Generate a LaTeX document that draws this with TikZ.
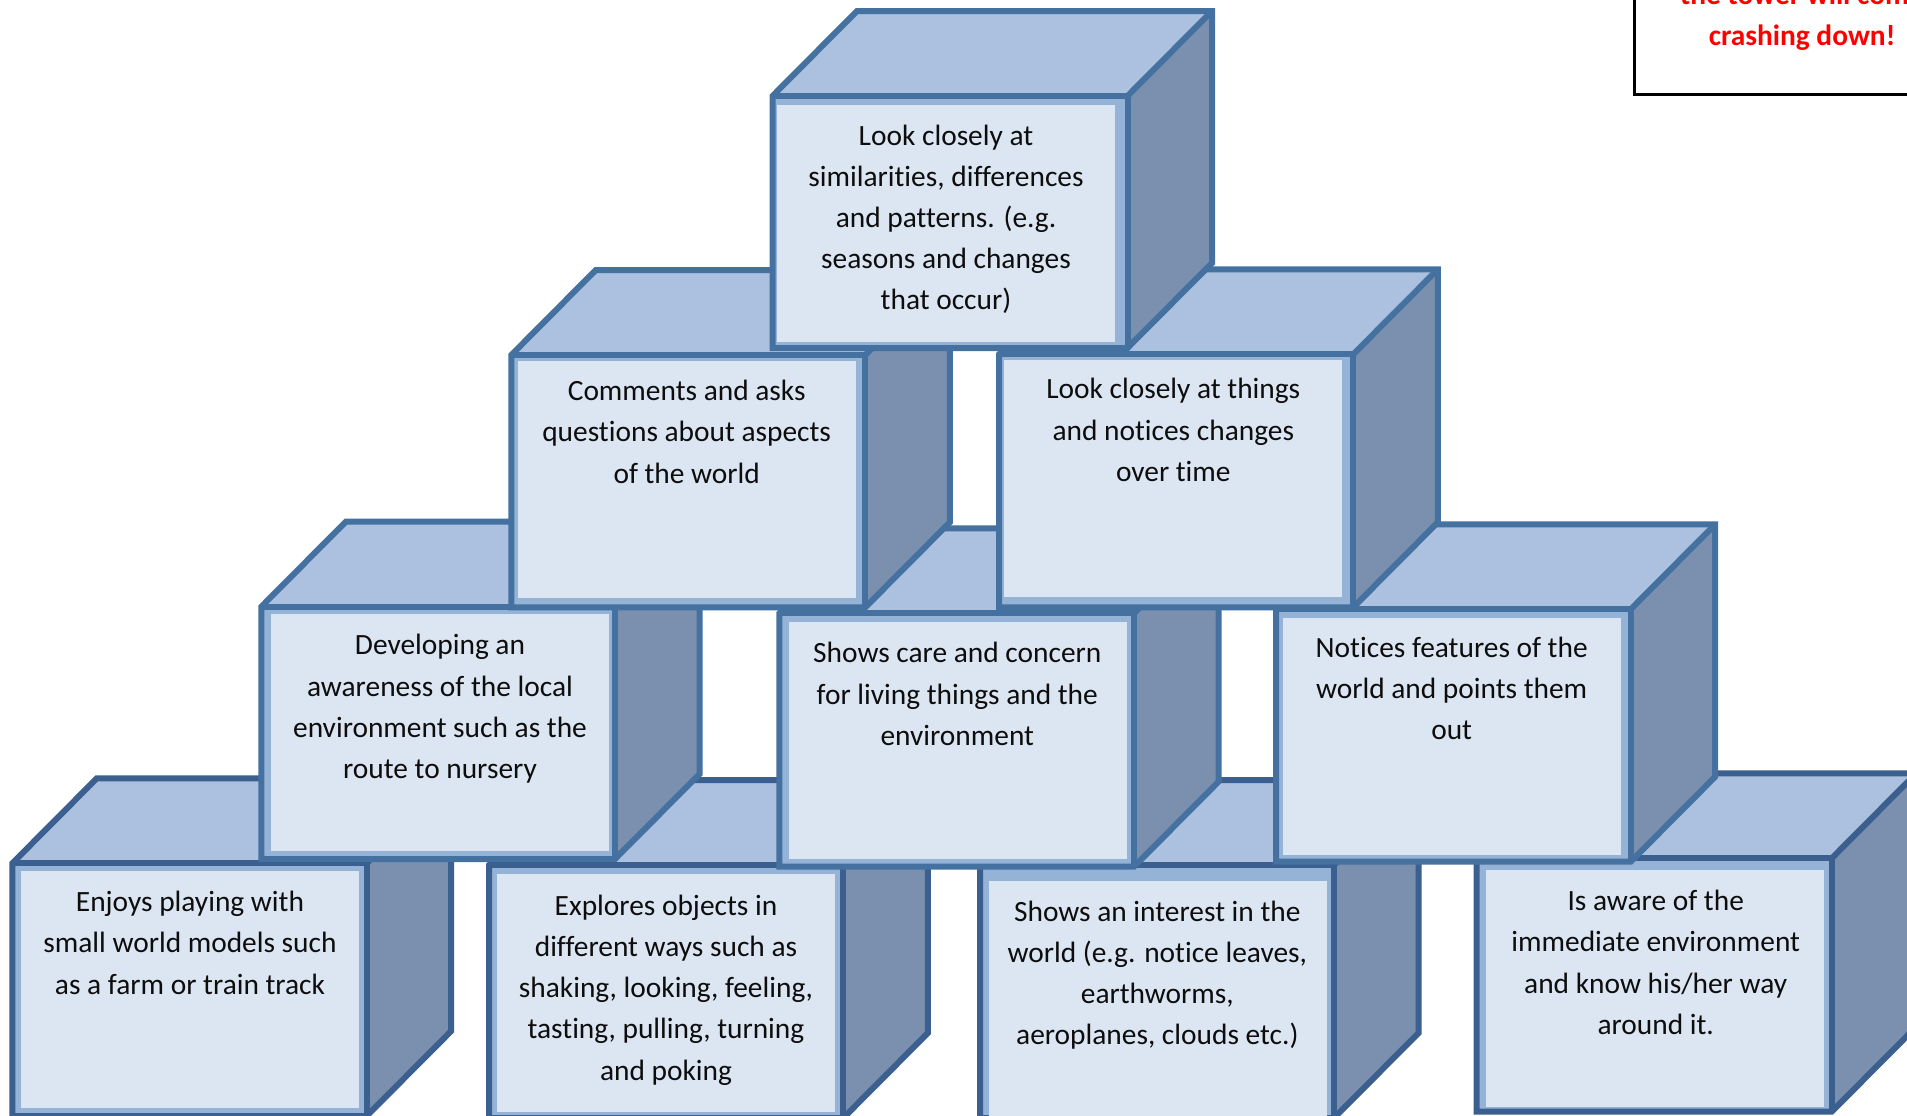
\documentclass[tikz,border=0pt]{standalone}
\usepackage{fontspec}
\setmainfont[Ligatures=CommonOff]{Carlito}
\definecolor{strokeA}{HTML}{44719F}
\definecolor{strokeB}{HTML}{3B5F8E}
\definecolor{topface}{HTML}{ABC1DF}
\definecolor{sideface}{HTML}{7B90AF}
\definecolor{rimface}{HTML}{95B3D7}
\definecolor{panelface}{HTML}{DCE6F2}
\definecolor{inktext}{HTML}{0D0D0D}
\tikzset{
  edge line/.style={line width=3pt,line join=miter},
  block text/.style={anchor=north,inner sep=0pt,align=center,text=inktext,
    font=\fontsize{14.7}{20.6}\selectfont},
  warning text/.style={anchor=north,inner sep=0pt,align=center,text=red,
    font=\fontsize{14.7}{20.6}\selectfont\bfseries}
}
% colour, left, top, right, bottom of the front face (stroke centres)
\newcommand{\cubebody}[5]{%
  \fill[sideface] (#4,#3) -- ({#4+84.5},{#3-85}) -- ({#4+84.5},{#5-85}) -- (#4,#5) -- cycle;
  \fill[topface] (#2,#3) -- ({#2+84.5},{#3-85}) -- ({#4+84.5},{#3-85}) -- (#4,#3) -- cycle;
  \fill[rimface] (#2,#3) rectangle (#4,#5);
  \draw[edge line,draw=#1] (#2,#3) -- ({#2+84.5},{#3-85}) -- ({#4+84.5},{#3-85})
     -- ({#4+84.5},{#5-85}) -- (#4,#5) -- (#2,#5) -- cycle;
  \draw[edge line,draw=#1] (#2,#3) -- (#4,#3) -- (#4,#5);
  \draw[edge line,draw=#1] (#4,#3) -- ({#4+84.5},{#3-85});
}
\newcommand{\facepanel}[4]{\fill[panelface] (#1,#2) rectangle (#3,#4);}
\newcommand{\blocktext}[4]{\node[block text] (#1) at (#2,{#3-18.6}) {\strut #4};}
\begin{document}
\begin{tikzpicture}[x=0.5pt,y=-0.5pt]
\useasboundingbox (0,0) rectangle (1907,1115);
\clip (0,0) rectangle (1907,1115);
\fill[white] (0,0) rectangle (1907,1115);

% warning box, running off the page
\draw[black,line width=1.1pt,fill=white] (1634.5,-40) rectangle (1950,94.5);
\node[warning text] (warning) at (1802,-25) {\strut the tower will come\\crashing down!};

% bottom row
\cubebody{strokeB}{12.3}{863.3}{366.7}{1116}
\facepanel{20.7}{871}{359.3}{1108.3}
\blocktext{enjoys}{190}{901}{Enjoys playing with\\small world models such\\as a farm or train track}

\cubebody{strokeB}{489}{865}{843.3}{1118}
\facepanel{496.7}{874}{835.3}{1111.7}
\blocktext{explores}{666}{904.6}{Explores objects in\\different ways such as\\shaking, looking, feeling,\\tasting, pulling, turning\\and poking}

\cubebody{strokeB}{980}{865}{1334}{1118}
\facepanel{989}{881}{1327}{1119}
\blocktext{interest}{1157.3}{910.5}{Shows an interest in the\\world (e.g. notice leaves,\\earthworms,\\aeroplanes, clouds etc.)}

\cubebody{strokeB}{1476.7}{858.3}{1831.7}{1111.7}
\facepanel{1485.7}{870}{1824}{1107.3}
\blocktext{aware}{1655.7}{900}{Is aware of the\\immediate environment\\and know his/her way\\around it.}

% third row
\cubebody{strokeA}{261.3}{606.7}{615}{859}
\facepanel{270.7}{614}{609.3}{851}
\blocktext{developing}{440}{644.3}{Developing an\\awareness of the local\\environment such as the\\route to nursery}

\cubebody{strokeA}{779.3}{613.3}{1134}{866.7}
\facepanel{789}{621.7}{1127}{859.3}
\blocktext{care}{957.3}{652.3}{Shows care and concern\\for living things and the\\environment}

\cubebody{strokeA}{1276}{609.3}{1630.7}{861.7}
\facepanel{1282.7}{617.7}{1621}{855}
\blocktext{notices}{1451.7}{646.7}{Notices features of the\\world and points them\\out}

% second row
\cubebody{strokeA}{511.3}{355}{865.3}{607.3}
\facepanel{518}{361}{856}{598}
\blocktext{comments}{686.7}{390}{Comments and asks\\questions about aspects\\of the world}

\cubebody{strokeA}{999}{354.3}{1353.3}{607.3}
\facepanel{1004}{360}{1342}{597}
\blocktext{things}{1173.3}{388.3}{Look closely at things\\and notices changes\\over time}

% top block
\cubebody{strokeA}{772.5}{96}{1127.5}{348}
\facepanel{776.5}{105}{1115}{342}
\blocktext{similar}{946}{134.5}{Look closely at\\similarities, differences\\and patterns. (e.g.\\seasons and changes\\that occur)}
\end{tikzpicture}
\end{document}
